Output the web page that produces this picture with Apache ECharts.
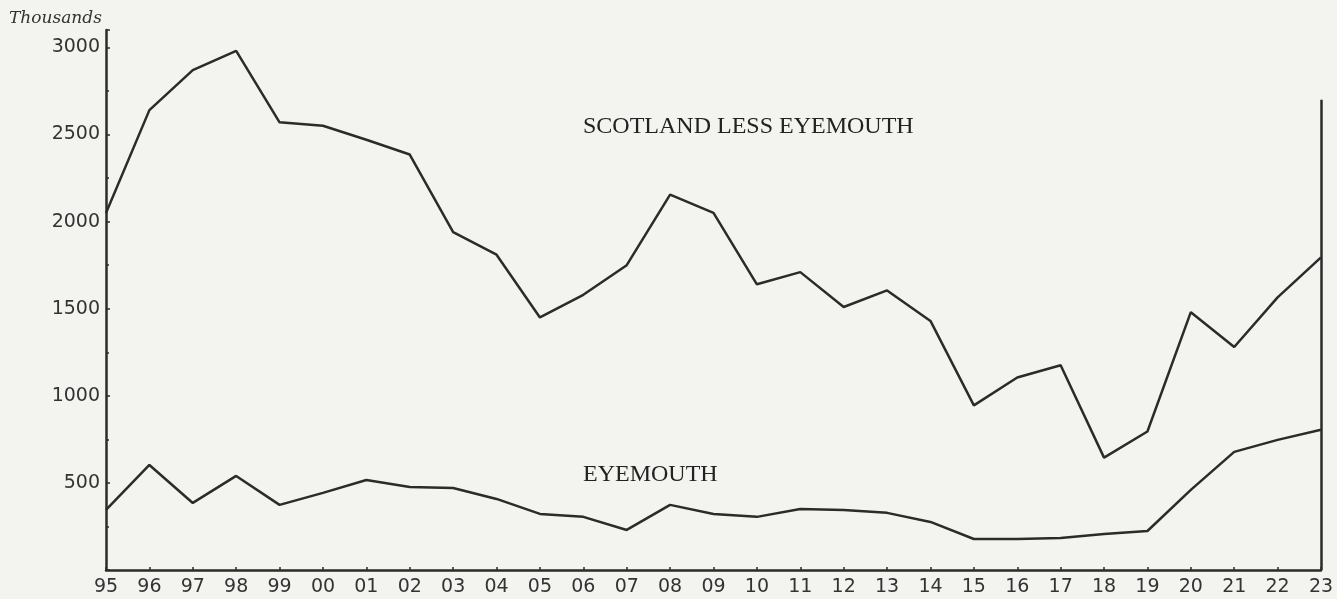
<!DOCTYPE html>
<html>
<head>
<meta charset="utf-8">
<script src="https://cdn.jsdelivr.net/npm/echarts@6/dist/echarts.min.js"></script>
<style>
  html, body { margin: 0; padding: 0; background: #f3f3f0; }
  #chart { width: 1337px; height: 599px; }
</style>
</head>
<body>
<div id="chart"></div>
<script>
// years 1895 - 1923, thousands
const years = ['95', '96', '97', '98', '99', '00', '01', '02', '03', '04', '05', '06', '07', '08', '09',
  '10', '11', '12', '13', '14', '15', '16', '17', '18', '19', '20', '21', '22', '23'];

const scotlandLessEyemouth = [2050, 2640, 2870, 2980, 2570, 2550, 2470, 2385, 1940, 1810, 1450, 1580, 1750, 2155, 2050,
  1640, 1710, 1510, 1605, 1430, 945, 1105, 1175, 645, 795, 1480, 1280, 1565, 1795];

const eyemouth = [345, 603, 385, 540, 374, 443, 517, 477, 471, 408, 322, 305, 230, 374, 322,
  305, 350, 345, 328, 276, 178, 178, 184, 207, 224, 460, 678, 747, 805];

const yLabels = [500, 1000, 1500, 2000, 2500, 3000];

const ink = '#2b2b2b';
const chart = echarts.init(document.getElementById('chart'));

chart.setOption({
  backgroundColor: '#f3f3f0',
  animation: false,
  grid: { left: 106, right: 16, top: 30, bottom: 29 },
  xAxis: {
    type: 'category',
    data: years,
    boundaryGap: false,
    axisLine: { lineStyle: { color: ink, width: 2.5 } },
    axisTick: { inside: true, length: 3, lineStyle: { color: ink, width: 1.5 } },
    axisLabel: { color: '#333', fontSize: 19, fontFamily: 'DejaVu Sans', margin: 8 },
    splitLine: { show: false }
  },
  yAxis: {
    type: 'value',
    min: 0,
    max: 3100,
    interval: 500,
    axisLine: { show: true, lineStyle: { color: ink, width: 2.5 } },
    axisTick: { show: true, inside: true, length: 4, lineStyle: { color: ink, width: 1.5 } },
    minorTick: { show: true, splitNumber: 2, length: 3, lineStyle: { color: ink, width: 1.5 } },
    axisLabel: {
      color: '#333', fontSize: 19, fontFamily: 'DejaVu Sans', margin: 6,
      formatter: v => (yLabels.indexOf(v) >= 0 ? String(v) : '')
    },
    splitLine: { show: false }
  },
  graphic: [
    { type: 'text', left: 9, top: 10,
      style: { text: 'Thousands', fill: '#333', font: 'italic 17px "DejaVu Serif"' } },
    { type: 'text', left: 583, top: 115,
      style: { text: 'SCOTLAND LESS EYEMOUTH', fill: '#222', font: '24px "Liberation Serif"' } },
    { type: 'text', left: 583, top: 463,
      style: { text: 'EYEMOUTH', fill: '#222', font: '24px "Liberation Serif"' } }
  ],
  series: [
    {
      name: 'Scotland less Eyemouth',
      type: 'line',
      data: scotlandLessEyemouth,
      symbol: 'none',
      lineStyle: { color: ink, width: 2.5 },
      markLine: {
        silent: true,
        symbol: 'none',
        label: { show: false },
        lineStyle: { color: ink, width: 2.5, type: 'solid' },
        data: [[{ coord: ['23', 0] }, { coord: ['23', 2700] }]]
      }
    },
    {
      name: 'Eyemouth',
      type: 'line',
      data: eyemouth,
      symbol: 'none',
      lineStyle: { color: ink, width: 2.5 }
    }
  ]
});
</script>
</body>
</html>
